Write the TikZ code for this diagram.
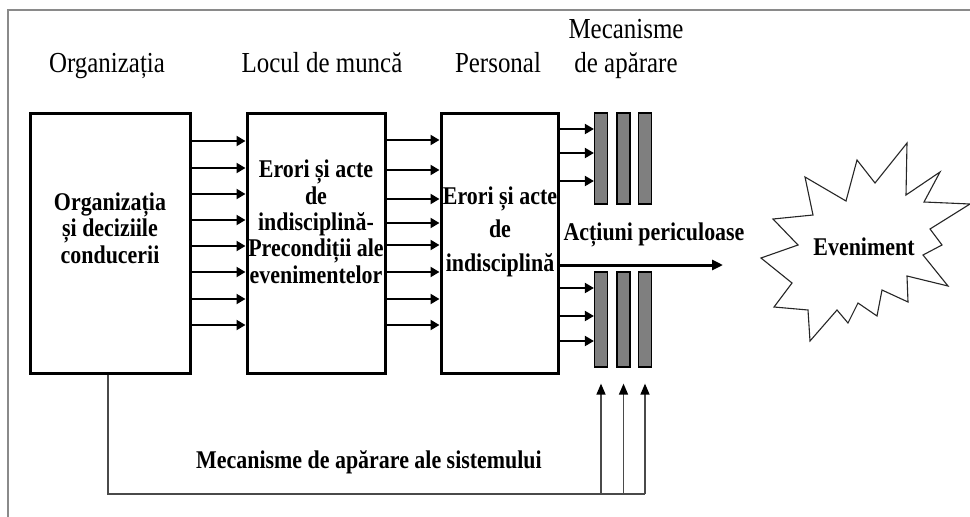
\documentclass[tikz,border=0pt]{standalone}
\usepackage{fontspec}
\setmainfont{Liberation Serif}[FakeStretch=0.86]
\usetikzlibrary{arrows.meta}
\definecolor{framegray}{HTML}{8A8A8A}
\definecolor{linegray}{HTML}{4A4A4A}
\definecolor{bargray}{HTML}{7F7F7F}
\begin{document}
\begin{tikzpicture}[x=1pt,y=-1pt,
  box/.style={draw=black, line width=3pt, minimum width=#1, minimum height=260pt, inner sep=0pt},
  bar/.style={draw=black, line width=1.2pt, fill=bargray, minimum width=13pt, minimum height=#1, inner sep=0pt},
  conn/.style={line width=2pt, -{Triangle[length=9pt,width=10pt]}},
  mainconn/.style={line width=3pt, -{Triangle[length=11pt,width=10pt]}},
  uparr/.style={draw=linegray, line width=1.4pt, -{Triangle[length=11pt,width=9pt,color=black]}},
  fbline/.style={draw=linegray, line width=1.4pt},
  hdr/.style={font=\fontsize{29}{34}\selectfont, anchor=base, inner sep=0pt, align=center},
  lbl/.style={font=\bfseries\fontsize{25.5}{#1}\selectfont, anchor=base, inner sep=0pt, align=center},
  lbl/.default=26.3,
  starline/.style={draw=black!85, line width=1.1pt, line join=miter}
]
\useasboundingbox (0,0) rectangle (970,517);
\fill[white] (0,0) rectangle (970,517);
% outer frame
\draw[framegray, line width=1.5pt] (8,530) -- (8,10) -- (980,10);

% headers
\node[hdr] (h1) at (107,72) {Organizația};
\node[hdr] (h2) at (322,72) {Locul de muncă};
\node[hdr] (h3) at (498,72) {Personal};
\node[hdr] (h4) at (626,72) {Mecanisme\\de apărare};

% boxes
\node[box=160pt] (b1) at (110,243) {};
\node[box=138pt] (b2) at (316,243) {};
\node[box=117pt] (b3) at (499.5,243) {};

% box texts (anchor base = last line)
\node[lbl] (t1) at (110,263) {Organizația\\și deciziile\\conducerii};
\node[lbl] (t2) at (316,283) {Erori și acte\\de\\indisciplină-\\Precondiții ale\\evenimentelor};
\node[lbl=33.5] (t3) at (500,271) {Erori și acte\\de\\indisciplină};

% bars
\node[bar=91pt] (bt1) at (601,158.5) {};
\node[bar=91pt] (bt2) at (623.5,158.5) {};
\node[bar=91pt] (bt3) at (645,158.5) {};
\node[bar=95pt] (bb1) at (601,319.5) {};
\node[bar=95pt] (bb2) at (623.5,319.5) {};
\node[bar=95pt] (bb3) at (645,319.5) {};

% arrows b1 -> b2
\foreach \yy in {141,168,194,220,246,272,299,325}
  \draw[conn] (b1.east |- 0,\yy) -- (b2.west |- 0,\yy);
% arrows b2 -> b3
\foreach \yy in {140,170,199,223,245,272,299,325}
  \draw[conn] (b2.east |- 0,\yy) -- (b3.west |- 0,\yy);
% arrows b3 -> bars
\foreach \yy in {129,153,181}
  \draw[conn] (b3.east |- 0,\yy) -- (bt1.west |- 0,\yy);
\foreach \yy in {288,316,341}
  \draw[conn] (b3.east |- 0,\yy) -- (bb1.west |- 0,\yy);

% main arrow
\coordinate (mainend) at (723,265);
\draw[mainconn] (b3.east |- mainend) -- (mainend);
\node[lbl] (act) at (654,240) {Acțiuni periculoase};

% feedback line
\coordinate (fbcorner) at (108,494);
\coordinate (fbend) at (bb3.south |- fbcorner);
\draw[fbline] (b1.south -| fbcorner) -- (fbcorner) -- (fbend);
\foreach \b in {bb1,bb2,bb3}
  \draw[uparr] (\b.south |- fbcorner) -- ([yshift=-16pt]\b.south);
\node[lbl] (mec) at (369,468) {Mecanisme de apărare ale sistemului};

% star
\draw[starline] (773,219) -- (813,215) -- (805,177) -- (846,201) -- (857,160)
  -- (875,183) -- (907,143) -- (906,195) -- (940,172) -- (924,202) -- (970,204)
  -- (930,229) -- (942,245) -- (923,255) -- (948,286) -- (907,276) -- (908,302)
  -- (882,290) -- (877,316) -- (858,303) -- (848,323) -- (837,310) -- (810,341)
  -- (808,310) -- (774,307) -- (792,283) -- (761,258) -- (798,245) -- cycle;
\node[lbl] (ev) at (864,255) {Eveniment};
\end{tikzpicture}
\end{document}
